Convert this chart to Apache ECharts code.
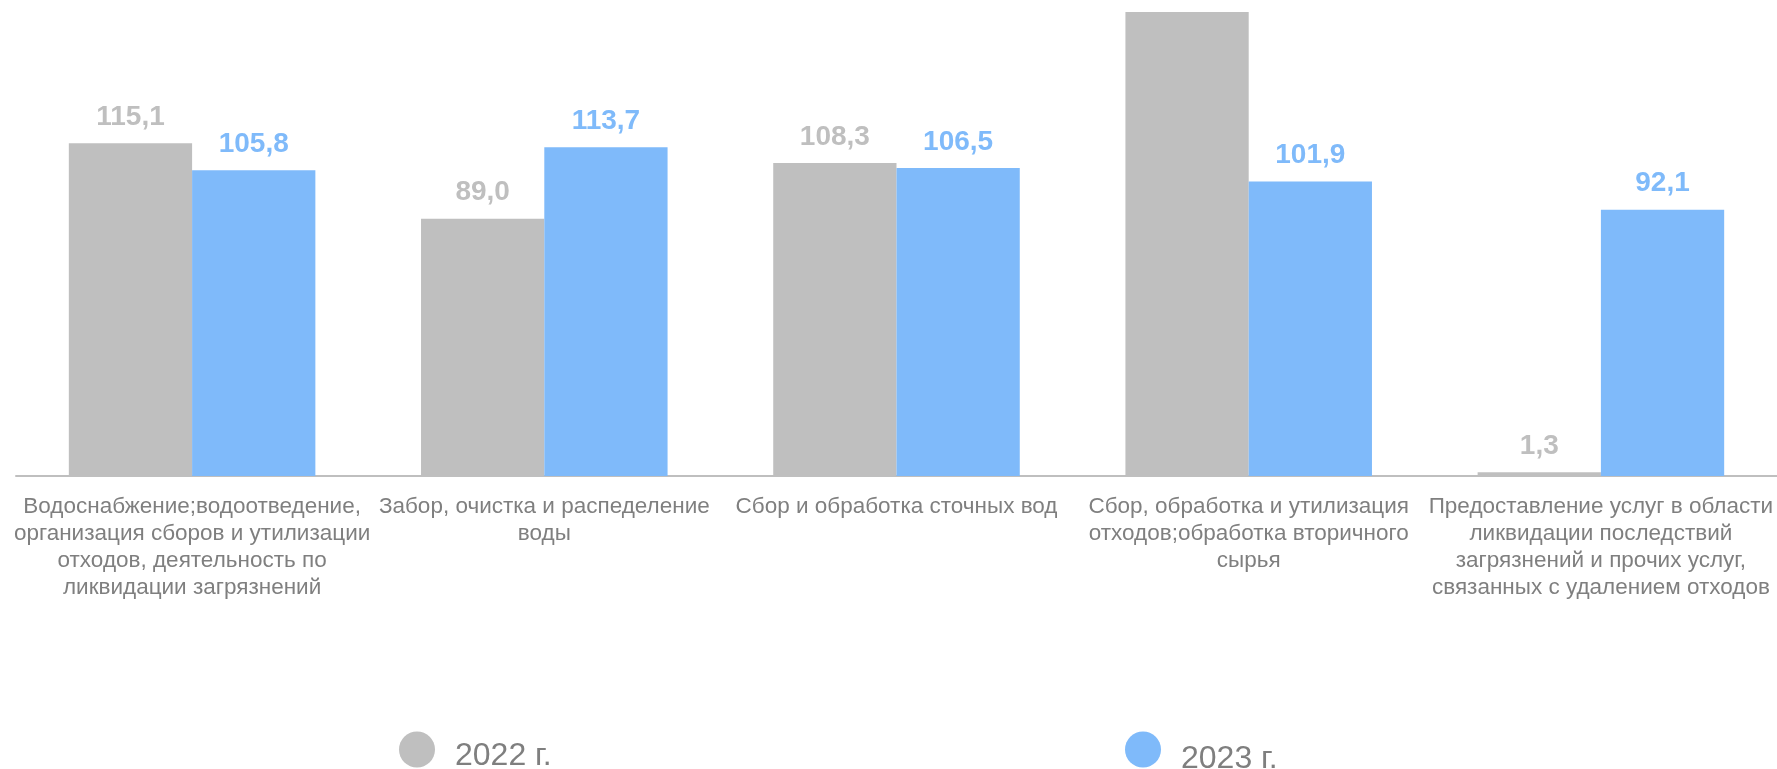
<!DOCTYPE html>
<html>
<head>
<meta charset="utf-8">
<script src="https://cdn.jsdelivr.net/npm/echarts@6/dist/echarts.min.js"></script>
<style>
html,body{margin:0;padding:0;background:#fff;}
#chart{width:1777px;height:769px;}
</style>
</head>
<body>
<div id="chart"></div>
<script>
const categories = [
  "Водоснабжение;водоотведение,\nорганизация сборов и утилизации\nотходов, деятельность по\nликвидации загрязнений",
  "Забор, очистка и распеделение\nводы",
  "Сбор и обработка сточных вод",
  "Сбор, обработка и утилизация\nотходов;обработка вторичного\nсырья",
  "Предоставление услуг в области\nликвидации последствий\nзагрязнений и прочих услуг,\nсвязанных с удалением отходов"
];
const seriesNames = ["2022 г.", "2023 г."];
const values2022 = [115.1, 89.0, 108.3, 172.0, 1.3];
const values2023 = [105.8, 113.7, 106.5, 101.9, 92.1];
const axisMax = 160.5;

const GRAY = "#BFBFBF";
const BLUE = "#7FBAFA";
const FONT = 'Liberation Sans, Arial, sans-serif';

function fmt(v){ return v.toFixed(1).replace('.', ','); }
function toData(arr){
  return arr.map(v => v > axisMax ? {value: v, label: {show: false}} : v);
}
function legendText(shift){
  return {
    color: '#7F7F7F', fontSize: 32, fontFamily: FONT, padding: [0,0,0,15],
    rich: {
      s: {fontSize: 1, lineHeight: shift},
      a: {color: '#7F7F7F', fontSize: 32, fontFamily: FONT, lineHeight: 36}
    }
  };
}

const chart = echarts.init(document.getElementById('chart'));
chart.setOption({
  animation: false,
  grid: {left: 16, right: 0, top: 12, bottom: 293, containLabel: false},
  xAxis: {
    type: 'category',
    data: categories,
    axisLine: {show: true, lineStyle: {color: GRAY, width: 2}},
    axisTick: {show: false},
    axisLabel: {
      interval: 0,
      color: '#7F7F7F',
      fontFamily: FONT,
      fontSize: 22.5,
      lineHeight: 27,
      margin: 17
    }
  },
  yAxis: {
    type: 'value', min: 0, max: axisMax, show: false,
    splitLine: {show: false}
  },
  legend: [
    {
      data: [seriesNames[0]], left: 394, top: 726, icon: 'circle',
      itemWidth: 36, itemHeight: 36, itemGap: 0,
      formatter: n => '{s| }\n{a|' + n + '}',
      textStyle: legendText(14)
    },
    {
      data: [seriesNames[1]], left: 1120, top: 726, icon: 'circle',
      itemWidth: 36, itemHeight: 36, itemGap: 0,
      formatter: n => '{s| }\n{a|' + n + '}',
      textStyle: legendText(20)
    }
  ],
  series: [
    {
      name: seriesNames[0], type: 'bar', data: toData(values2022),
      barWidth: '35%', barGap: '0%',
      itemStyle: {color: GRAY},
      label: {show: true, position: 'top', distance: 12, color: GRAY, fontWeight: 'bold', fontSize: 28,
        fontFamily: FONT, formatter: p => fmt(p.value)}
    },
    {
      name: seriesNames[1], type: 'bar', data: toData(values2023),
      barWidth: '35%', barGap: '0%',
      itemStyle: {color: BLUE},
      label: {show: true, position: 'top', distance: 12, color: BLUE, fontWeight: 'bold', fontSize: 28,
        fontFamily: FONT, formatter: p => fmt(p.value)}
    }
  ]
});
</script>
</body>
</html>
